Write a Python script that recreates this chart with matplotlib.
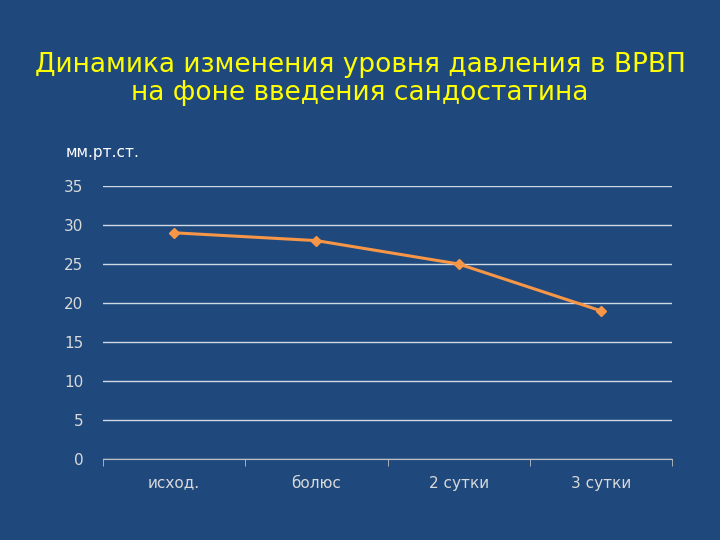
import matplotlib
matplotlib.use("Agg")
import matplotlib.pyplot as plt

categories = ["исход.", "болюс", "2 сутки", "3 сутки"]
values = [29, 28, 25, 19]
yticks = [0, 5, 10, 15, 20, 25, 30, 35]

bg = "#1F497D"
fig = plt.figure(figsize=(7.2, 5.4), dpi=100, facecolor=bg)
ax = fig.add_axes([103/720, 1-459/540, (672-103)/720, (459-186)/540])
ax.set_facecolor(bg)
x = list(range(len(categories)))
ax.plot(x, values, color="#F79646", lw=2.2, marker="D", ms=5, zorder=3)
ax.set_xlim(-0.5, 3.5)
ax.set_ylim(0, 35)
ax.set_yticks(yticks)
ax.grid(axis="y", color="#D0D8E4", lw=1)
ax.set_axisbelow(True)
ax.set_xticks(x)
ax.set_xticklabels(categories)
ax.set_xticks([-0.5, 0.5, 1.5, 2.5, 3.5], minor=True)
ax.tick_params(axis="x", which="major", length=0, pad=12, colors="#D9D9D9", labelsize=11)
ax.tick_params(axis="x", which="minor", length=5, color="#BFBFBF")
ax.tick_params(axis="y", length=0, pad=14, colors="#D9D9D9", labelsize=11)
for s in ["top", "right", "left"]:
    ax.spines[s].set_visible(False)
ax.spines["bottom"].set_color("#BFBFBF")
fig.text(0.5, 1-79/540, "Динамика изменения уровня давления в ВРВП\nна фоне введения сандостатина",
         ha="center", va="center", color="#FFFF00", fontsize=19, family="DejaVu Sans", linespacing=1.15)
fig.text(66/720, 1-152/540, "мм.рт.ст.", color="white", fontsize=11, va="center")
fig.savefig("out.png", dpi=100, facecolor=bg)
